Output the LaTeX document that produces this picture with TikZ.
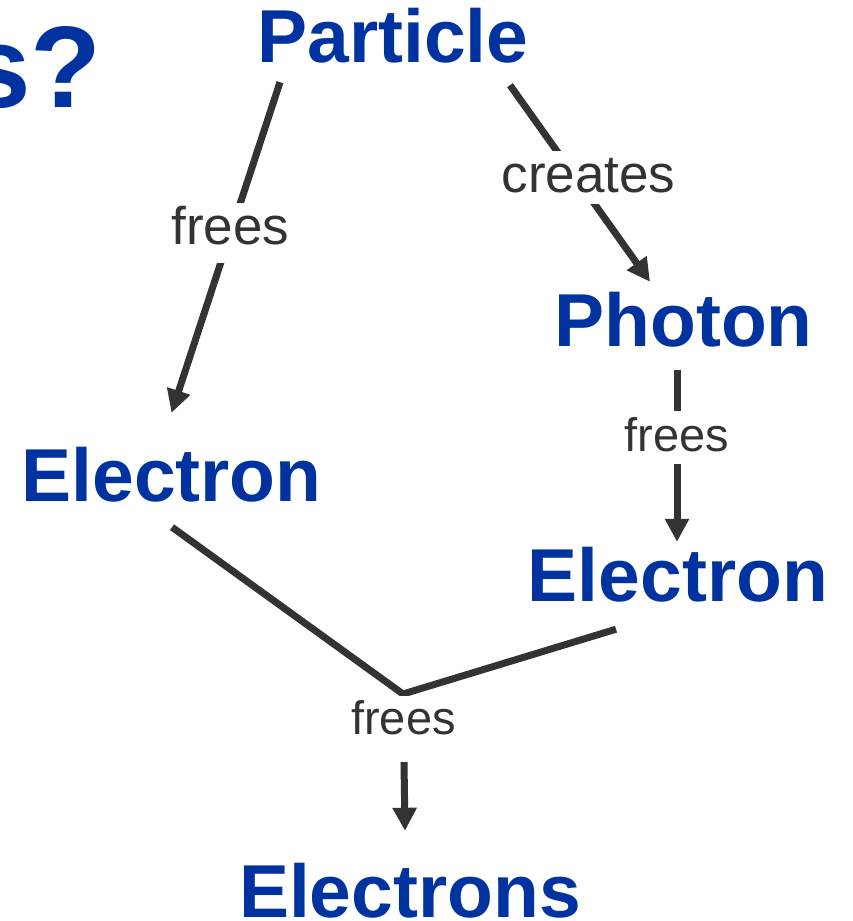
\documentclass[tikz,border=0pt]{standalone}
\usepackage{fontspec}
\setmainfont{Liberation Sans}
\usetikzlibrary{arrows.meta,calc}
\definecolor{figblue}{RGB}{0,51,160}
\definecolor{figdark}{gray}{0.2}
\tikzset{
  fig/.style={x=1pt,y=-1pt},
  term/.style={font=\bfseries\fontsize{75}{80}\selectfont,text=figblue,
               inner sep=0pt,text height=54pt,text depth=0pt,anchor=base},
  ln/.style={-{Triangle[length=23pt,width=23pt]},line width=7pt,draw=figdark},
  lnp/.style={line width=7pt,draw=figdark},
  lbl/.style={font=\fontsize{53}{60}\selectfont,text=figdark,fill=white,
              inner sep=0pt,text height=41pt,text depth=12pt},
  lbls/.style={lbl,font=\fontsize{47}{54}\selectfont},
}
\begin{document}
\begin{tikzpicture}[fig]
\useasboundingbox (0,0) rectangle (853,921);

\node[term,anchor=base east,font=\bfseries\fontsize{116}{120}\selectfont] (ttl) at (102,107) {s?};

\node[term] (part)  at (393,62)    {Particle};
\node[term] (phot)  at (683.5,346) {Photon};
\node[term] (elecl) at (171.5,501) {Electron};
\node[term] (elecr) at (678,601)   {Electron};
\node[term] (elecs) at (410,917)   {Electrons};

\draw[ln] ($(part.south)+(-113,20)$)
      -- node[lbl,pos=0.456,text height=42pt,text depth=18pt] (fr1) {frees}
         ($(elecl.north)+(0,-34)$);
\draw[ln] ($(part.south)+(117,23)$)
      -- node[lbl,pos=0.472,xshift=12.5pt] (cre) {creates}
         ($(phot.north)+(-33.5,-10)$);
\draw[ln] ($(phot.south)+(-6.5,24)$)
      -- node[lbls,pos=0.391] (fr2) {frees}
         ($(elecr.north)+(-1,-5)$);

% both electrons meet, then free more
\coordinate (join) at (403,694);
\draw[lnp] ($(elecl.south)+(0.5,26)$) -- (join) -- ($(elecr.south)+(-62,28)$);
\draw[ln] (join)
      -- node[lbls,pos=0.259,text height=38pt,text depth=28pt] (fr3) {frees}
         ($(elecs.north)+(-5,-32)$);

\end{tikzpicture}
\end{document}
